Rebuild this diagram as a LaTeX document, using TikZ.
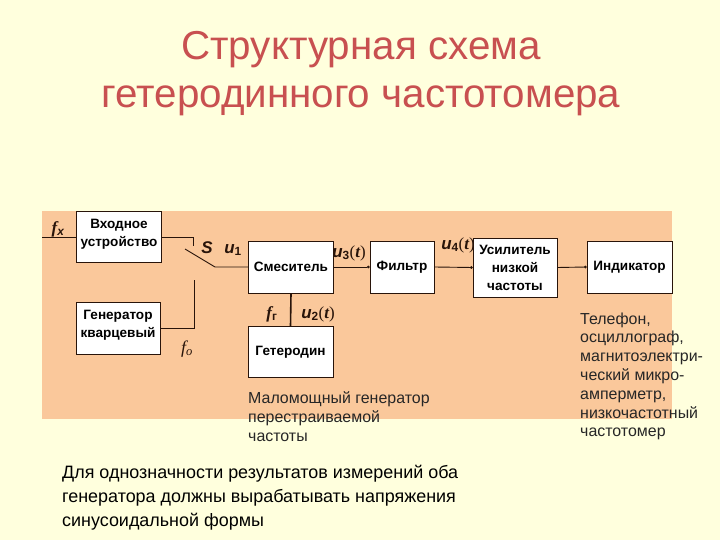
\documentclass[tikz,border=0pt]{standalone}
\usepackage{fontspec}
\setmainfont{Liberation Sans}
\newfontfamily\serifit{Liberation Serif}
\usetikzlibrary{arrows.meta}
\definecolor{bgyellow}{RGB}{255,255,221}
\definecolor{peach}{RGB}{250,200,155}
\definecolor{titlered}{RGB}{200,80,80}
\definecolor{linecol}{RGB}{40,20,10}
\begin{document}
\begin{tikzpicture}[x=1bp,y=-1bp,
  blk/.style={draw=linecol, line width=0.8bp, fill=white, align=center,
    font=\fontsize{13.6}{18}\selectfont\bfseries, inner sep=0pt},
  wire/.style={draw=linecol, line width=0.9bp},
  sig/.style={wire, -{Circle[length=2.6bp]}},
  lbl/.style={font=\fontsize{17}{18}\selectfont\bfseries\itshape, inner sep=0pt, text=linecol},
  note/.style={font=\fontsize{16}{18}\selectfont, anchor=base west, inner sep=0pt, text=black!85},
  titl/.style={font=\fontsize{40.5}{42}\selectfont, text=titlered, inner sep=0pt, anchor=base}]
\useasboundingbox (0,0) rectangle (720,540);
\fill[bgyellow] (0,0) rectangle (720,540);
\fill[peach] (42,211) rectangle (672,419);
% title
\node[titl] (t1) at (361,60) {Структурная схема};
\node[titl] (t2) at (361,108) {гетеродинного частотомера};
% labels
\node[lbl] (lfx) at (58,229) {{\serifit f}\textsubscript{x}};
\node[lbl] (lS) at (207,248) {S};
\node[lbl] (lu1) at (233,250) {u\textsubscript{\upshape 1}};
\node[lbl] (lu3) at (349,253) {u\textsubscript{\upshape 3}{\serifit\upshape\mdseries (}{\serifit t}{\serifit\upshape\mdseries )}};
\node[lbl] (lu4) at (458,245) {u\textsubscript{\upshape 4}{\serifit\upshape\mdseries (}{\serifit t}{\serifit\upshape\mdseries )}};
\node[lbl] (lfg) at (272,314) {{\serifit f}\textsubscript{\upshape г}};
\node[lbl] (lu2) at (318,314) {u\textsubscript{\upshape 2}{\serifit\upshape\mdseries (}{\serifit t}{\serifit\upshape\mdseries )}};
\node[lbl, font=\fontsize{18}{18}\selectfont\serifit\itshape] (lfo) at (187,349) {f\textsubscript{o}};
% blocks
\node[blk, minimum width=85bp, minimum height=51bp, text depth=9bp] (vhod) at (119,237) {Входное\\устройство};
\node[blk, minimum width=84bp, minimum height=52bp, text depth=9bp] (gen) at (118,328) {Генератор\\кварцевый};
\node[blk, minimum width=85bp, minimum height=52bp] (mix) at (291,267) {Смеситель};
\node[blk, minimum width=85bp, minimum height=51bp] (het) at (290.5,352) {Гетеродин};
\node[blk, minimum width=64bp, minimum height=52bp] (filt) at (402,267) {Фильтр};
\node[blk, minimum width=84bp, minimum height=59bp] (amp) at (515,267.5) {Усилитель\\низкой\\частоты};
\node[blk, minimum width=85bp, minimum height=52bp] (ind) at (629.5,267) {Индикатор};
% wires
\coordinate (fxin) at (42,237);
\coordinate (sw1) at (193,246);
\coordinate (bladeA) at (185,249);
\coordinate (bladeB) at (215,267);
\coordinate (sw2) at (194,280);
\draw[wire] (fxin) -- (vhod.west);
\draw[wire] (vhod.east) -| (sw1);
\draw[wire] (bladeA) -- (bladeB) -- (mix.west);
\draw[wire] (gen.east) -| (sw2);
\draw[wire, line width=1.6bp] (mix.south) -- (het.north);
\draw[sig] (mix.east) -- (filt.west);
\draw[sig] (filt.east) -- (amp.west);
\draw[sig] (amp.east) -- (ind.west);
% notes
\node[note] (n1) at (248,403) {Маломощный генератор};
\node[note] (n2) at (248,422) {перестраиваемой};
\node[note] (n3) at (248,441) {частоты};
\node[note] (r1) at (580,324) {Телефон,};
\node[note] (r2) at (580,342.8) {осциллограф,};
\node[note] (r3) at (580,361.6) {магнитоэлектри-};
\node[note] (r4) at (580,380.4) {ческий микро-};
\node[note] (r5) at (580,399.2) {амперметр,};
\node[note] (r6) at (580,418) {низкочастотный};
\node[note] (r7) at (580,436.8) {частотомер};
\node[note, font=\fontsize{18}{20}\selectfont, text=black] (b1) at (62,478) {Для однозначности результатов измерений оба};
\node[note, font=\fontsize{18}{20}\selectfont, text=black] (b2) at (62,502) {генератора должны вырабатывать напряжения};
\node[note, font=\fontsize{18}{20}\selectfont, text=black] (b3) at (62,526) {синусоидальной формы};
\end{tikzpicture}
\end{document}
